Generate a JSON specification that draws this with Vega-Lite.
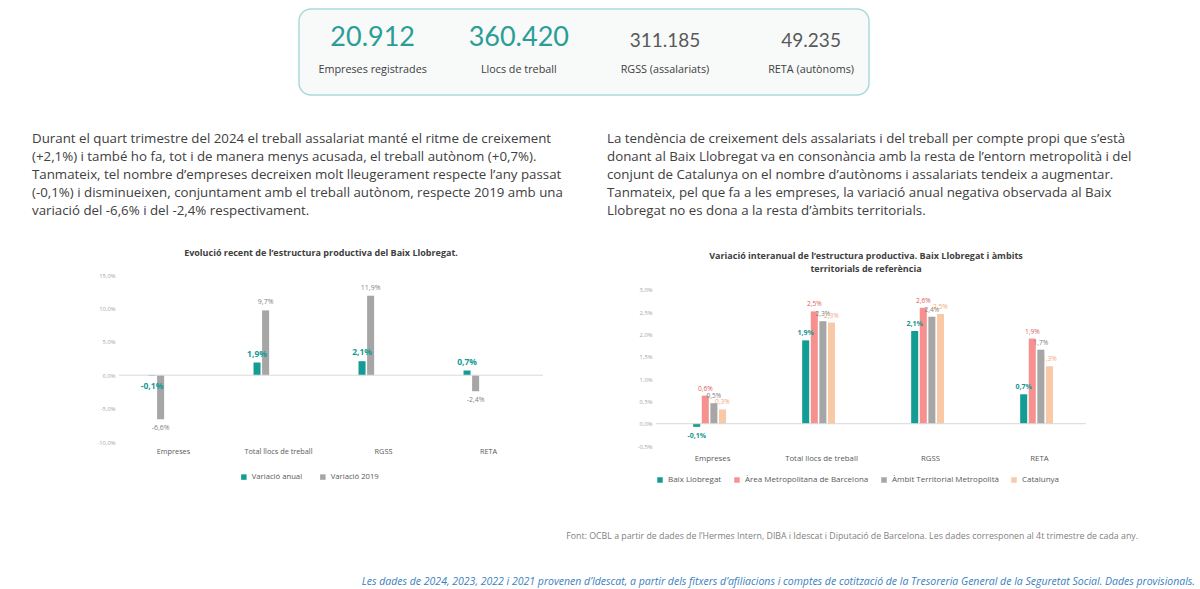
{
  "$schema": "https://vega.github.io/schema/vega-lite/v6.json",
  "background": "white",
  "padding": {"top": 8, "left": 0, "right": 0, "bottom": 0},
  "spacing": 0,
  "config": {
    "font": "Open Sans",
    "view": {"stroke": null},
    "concat": {"spacing": 0},
    "axis": {"labelOverlap": false},
    "locale": {"number": {"decimal": ",", "thousands": ".", "grouping": [3], "currency": ["", " €"], "minus": "-"}}
  },
  "vconcat": [
    {
      "spacing": 0,
      "hconcat": [
        {"width": 298, "height": 86, "data": {"values": [{}]}, "mark": {"type": "text", "text": ""}},
        {
          "width": 570, "height": 86,
          "view": {"stroke": "#a9dad6", "strokeWidth": 1.5, "cornerRadius": 12, "fill": "#f8f9f9"},
          "data": {"values": [
            {"indicador": "Empreses registrades", "valor": 20912, "tipus": "principal"},
            {"indicador": "Llocs de treball", "valor": 360420, "tipus": "principal"},
            {"indicador": "RGSS (assalariats)", "valor": 311185, "tipus": "secundari"},
            {"indicador": "RETA (autònoms)", "valor": 49235, "tipus": "secundari"}
          ]},
          "encoding": {"x": {"field": "indicador", "type": "nominal", "sort": null, "axis": null, "scale": {"type": "point", "padding": 0.45, "align": 0.56}}},
          "layer": [
            {"transform": [{"filter": "datum.tipus === 'principal'"}], "mark": {"type": "text", "font": "Lato", "fontSize": 27, "dy": -14, "color": "#2a9d97"}, "encoding": {"text": {"field": "valor", "type": "quantitative", "format": ",d"}}},
            {"transform": [{"filter": "datum.tipus === 'secundari'"}], "mark": {"type": "text", "font": "Lato", "fontSize": 19, "dy": -11, "color": "#595959"}, "encoding": {"text": {"field": "valor", "type": "quantitative", "format": ",d"}}},
            {"mark": {"type": "text", "fontSize": 10.8, "dy": 18, "color": "#404040"}, "encoding": {"text": {"field": "indicador", "type": "nominal"}}}
          ]
        }
      ]
    },
    {
      "spacing": 0,
      "hconcat": [
        {"width": 32, "height": 153, "data": {"values": [{}]}, "mark": {"type": "text", "text": ""}},
        {
          "width": 575, "height": 153,
          "data": {"values": [{"paragraf": "Durant el quart trimestre del 2024 el treball assalariat manté el ritme de creixement\n(+2,1%) i també ho fa, tot i de manera menys acusada, el treball autònom (+0,7%).\nTanmateix, tel nombre d’empreses decreixen molt lleugerament respecte l’any passat\n(-0,1%) i disminueixen, conjuntament amb el treball autònom,  respecte 2019 amb una\nvariació del -6,6% i del -2,4% respectivament."}]},
          "mark": {"type": "text", "align": "left", "baseline": "top", "x": 0, "y": 36, "fontSize": 13.3, "lineHeight": 18, "lineBreak": "\n", "color": "#404040"},
          "encoding": {"text": {"field": "paragraf", "type": "nominal"}}
        },
        {
          "width": 580, "height": 153,
          "data": {"values": [{"paragraf": "La tendència de creixement dels assalariats i del treball per compte propi que s’està\ndonant al Baix Llobregat va en consonància amb la resta de l’entorn metropolità i del\nconjunt de Catalunya on el nombre d’autònoms i assalariats tendeix a augmentar.\nTanmateix, pel que fa a les empreses, la variació anual negativa observada al Baix\nLlobregat no es dona a la resta d’àmbits territorials."}]},
          "mark": {"type": "text", "align": "left", "baseline": "top", "x": 0, "y": 36, "fontSize": 13.3, "lineHeight": 18, "lineBreak": "\n", "color": "#404040"},
          "encoding": {"text": {"field": "paragraf", "type": "nominal"}}
        }
      ]
    },
    {
      "spacing": 0,
      "resolve": {"scale": {"color": "independent"}, "legend": {"color": "independent"}},
      "hconcat": [
        {"width": 90, "height": 167, "data": {"values": [{}]}, "mark": {"type": "text", "text": ""}},
        {
          "width": 424, "height": 167,
          "title": {"text": "Evolució recent de l’estructura productiva del Baix Llobregat.", "fontSize": 9, "fontWeight": "bold", "color": "#404040", "anchor": "middle", "dx": -10, "offset": 14},
          "data": {"values": [
            {"categoria": "Empreses", "variacio": "Variació anual", "valor": -0.001},
            {"categoria": "Empreses", "variacio": "Variació 2019", "valor": -0.066},
            {"categoria": "Total llocs de treball", "variacio": "Variació anual", "valor": 0.019},
            {"categoria": "Total llocs de treball", "variacio": "Variació 2019", "valor": 0.097},
            {"categoria": "RGSS", "variacio": "Variació anual", "valor": 0.021},
            {"categoria": "RGSS", "variacio": "Variació 2019", "valor": 0.119},
            {"categoria": "RETA", "variacio": "Variació anual", "valor": 0.007},
            {"categoria": "RETA", "variacio": "Variació 2019", "valor": -0.024}
          ]},
          "layer": [
            {
              "mark": {"type": "bar"},
              "encoding": {
                "x": {"field": "categoria", "type": "nominal", "sort": null, "title": null, "scale": {"paddingInner": 0.524, "paddingOuter": 0.281},
                      "axis": {"domain": false, "ticks": false, "labelAngle": 0, "labelFontSize": 7.3, "labelColor": "#595959", "labelPadding": 5}},
                "xOffset": {"field": "variacio", "type": "nominal", "sort": null, "scale": {"paddingInner": 0.18}},
                "y": {"field": "valor", "type": "quantitative", "title": null, "scale": {"domain": [-0.1, 0.15], "nice": false, "zero": false},
                      "axis": {"values": [-0.1, -0.05, 0, 0.05, 0.1, 0.15], "tickCount": 20, "format": ".1%", "domain": false, "ticks": false, "grid": false, "labelOverlap": false, "labelFontSize": 5.8, "labelColor": "#a6a6a6", "labelPadding": 4, "minExtent": 29, "maxExtent": 29}},
                "color": {"field": "variacio", "type": "nominal", "sort": null, "scale": {"domain": ["Variació anual", "Variació 2019"], "range": ["#139c94", "#a6a6a6"]},
                          "legend": {"orient": "none", "legendX": 121, "legendY": 198, "direction": "horizontal", "title": null, "symbolType": "square", "symbolSize": 30, "labelFontSize": 7.7, "labelColor": "#595959", "columnPadding": 16}}
              }
            },
            {
              "data": {"values": [{}]},
              "mark": {"type": "rule", "color": "#d9d9d9", "strokeWidth": 1},
              "encoding": {"y": {"datum": 0, "type": "quantitative", "axis": {"values": [-0.1, -0.05, 0, 0.05, 0.1, 0.15], "tickCount": 20, "format": ".1%", "domain": false, "ticks": false, "grid": false, "labelOverlap": false}}}
            },
            {
              "transform": [{"filter": "datum.variacio === 'Variació anual'"}],
              "mark": {"type": "text", "fontSize": 8.5, "fontWeight": "bold", "color": "#139c94", "dy": {"expr": "datum.valor < 0 ? 10 : -9"}},
              "encoding": {
                "x": {"field": "categoria", "type": "nominal", "sort": null},
                "xOffset": {"field": "variacio", "type": "nominal", "sort": null},
                "y": {"field": "valor", "type": "quantitative"},
                "text": {"field": "valor", "type": "quantitative", "format": ".1%"}
              }
            },
            {
              "transform": [{"filter": "datum.variacio === 'Variació 2019'"}],
              "mark": {"type": "text", "fontSize": 7, "color": "#7f7f7f", "dy": {"expr": "datum.valor < 0 ? 9 : -8"}},
              "encoding": {
                "x": {"field": "categoria", "type": "nominal", "sort": null},
                "xOffset": {"field": "variacio", "type": "nominal", "sort": null},
                "y": {"field": "valor", "type": "quantitative"},
                "text": {"field": "valor", "type": "quantitative", "format": ".1%"}
              }
            }
          ]
        },
        {
          "width": 430, "height": 171,
          "title": {"text": ["Variació interanual de l’estructura productiva. Baix Llobregat i àmbits", "territorials de referència"], "fontSize": 9, "lineHeight": 13, "fontWeight": "bold", "color": "#404040", "anchor": "middle", "dx": -5, "offset": 1},
          "data": {"values": [
            {"categoria": "Empreses", "ambit": "Baix Llobregat", "valor": -0.0007},
            {"categoria": "Empreses", "ambit": "Àrea Metropolitana de Barcelona", "valor": 0.0063},
            {"categoria": "Empreses", "ambit": "Àmbit Territorial Metropolità", "valor": 0.0046},
            {"categoria": "Empreses", "ambit": "Catalunya", "valor": 0.0032},
            {"categoria": "Total llocs de treball", "ambit": "Baix Llobregat", "valor": 0.0187},
            {"categoria": "Total llocs de treball", "ambit": "Àrea Metropolitana de Barcelona", "valor": 0.0252},
            {"categoria": "Total llocs de treball", "ambit": "Àmbit Territorial Metropolità", "valor": 0.023},
            {"categoria": "Total llocs de treball", "ambit": "Catalunya", "valor": 0.0227},
            {"categoria": "RGSS", "ambit": "Baix Llobregat", "valor": 0.0208},
            {"categoria": "RGSS", "ambit": "Àrea Metropolitana de Barcelona", "valor": 0.026},
            {"categoria": "RGSS", "ambit": "Àmbit Territorial Metropolità", "valor": 0.024},
            {"categoria": "RGSS", "ambit": "Catalunya", "valor": 0.0246},
            {"categoria": "RETA", "ambit": "Baix Llobregat", "valor": 0.0066},
            {"categoria": "RETA", "ambit": "Àrea Metropolitana de Barcelona", "valor": 0.0191},
            {"categoria": "RETA", "ambit": "Àmbit Territorial Metropolità", "valor": 0.0166},
            {"categoria": "RETA", "ambit": "Catalunya", "valor": 0.0129}
          ]},
          "resolve": {"scale": {"color": "independent"}},
          "layer": [
            {
              "mark": {"type": "bar"},
              "encoding": {
                "x": {"field": "categoria", "type": "nominal", "sort": null, "title": null, "scale": {"paddingInner": 0.33, "paddingOuter": 0.1376, "align": 0.667},
                      "axis": {"domain": false, "ticks": false, "labelAngle": 0, "labelFontSize": 7.8, "labelColor": "#595959", "labelPadding": 8}},
                "xOffset": {"field": "ambit", "type": "nominal", "sort": null, "scale": {"paddingInner": 0.08}},
                "y": {"field": "valor", "type": "quantitative", "title": null, "scale": {"domain": [-0.005, 0.03336], "nice": false, "zero": false},
                      "axis": {"values": [-0.005, 0, 0.005, 0.01, 0.015, 0.02, 0.025, 0.03], "tickCount": 20, "format": ".1%", "domain": false, "ticks": false, "grid": false, "labelOverlap": false, "labelFontSize": 5.8, "labelColor": "#a6a6a6", "labelPadding": 4, "minExtent": 112, "maxExtent": 112}},
                "color": {"field": "ambit", "type": "nominal", "sort": null, "scale": {"domain": ["Baix Llobregat", "Àrea Metropolitana de Barcelona", "Àmbit Territorial Metropolità", "Catalunya"], "range": ["#139c94", "#f79190", "#a6a6a6", "#f8c9a4"]},
                          "legend": {"orient": "none", "legendX": 0, "legendY": 201, "direction": "horizontal", "title": null, "symbolType": "square", "symbolSize": 30, "labelFontSize": 8, "labelColor": "#595959", "columnPadding": 11}}
              }
            },
            {
              "data": {"values": [{}]},
              "mark": {"type": "rule", "color": "#d9d9d9", "strokeWidth": 1},
              "encoding": {"y": {"datum": 0, "type": "quantitative", "axis": {"values": [-0.005, 0, 0.005, 0.01, 0.015, 0.02, 0.025, 0.03], "tickCount": 20, "format": ".1%", "domain": false, "ticks": false, "grid": false, "labelOverlap": false}}}
            },
            {
              "transform": [{"filter": "datum.ambit === 'Baix Llobregat'"}],
              "mark": {"type": "text", "fontSize": 7, "fontWeight": "bold", "color": "#13968e", "dy": {"expr": "datum.valor < 0 ? 9 : -7"}},
              "encoding": {
                "x": {"field": "categoria", "type": "nominal", "sort": null},
                "xOffset": {"field": "ambit", "type": "nominal", "sort": null},
                "y": {"field": "valor", "type": "quantitative"},
                "text": {"field": "valor", "type": "quantitative", "format": ".1%"}
              }
            },
            {
              "transform": [{"filter": "datum.ambit !== 'Baix Llobregat'"}],
              "mark": {"type": "text", "fontSize": 6.6, "dy": -7},
              "encoding": {
                "x": {"field": "categoria", "type": "nominal", "sort": null},
                "xOffset": {"field": "ambit", "type": "nominal", "sort": null},
                "y": {"field": "valor", "type": "quantitative"},
                "text": {"field": "valor", "type": "quantitative", "format": ".1%"},
                "color": {"field": "ambit", "type": "nominal", "sort": null, "legend": null, "scale": {"domain": ["Àrea Metropolitana de Barcelona", "Àmbit Territorial Metropolità", "Catalunya"], "range": ["#e05c5c", "#7f7f7f", "#f0aa78"]}}
              }
            }
          ]
        }
      ]
    },
    {
      "width": 1138, "height": 70,
      "data": {"values": [{"font": "Font: OCBL a partir de dades de l’Hermes Intern, DIBA i Idescat i Diputació de Barcelona. Les dades corresponen al 4t trimestre de cada any."}]},
      "mark": {"type": "text", "align": "right", "baseline": "middle", "x": "width", "y": 52, "fontSize": 8.8, "color": "#7f7f7f"},
      "encoding": {"text": {"field": "font", "type": "nominal"}}
    },
    {
      "width": 1195, "height": 36,
      "data": {"values": [{"nota": "Les dades de 2024, 2023, 2022 i 2021 provenen d’Idescat, a partir dels fitxers d’afiliacions i comptes de cotització de la Tresoreria General de la Seguretat Social. Dades provisionals."}]},
      "mark": {"type": "text", "align": "right", "baseline": "middle", "x": "width", "y": 28, "fontSize": 10.5, "fontStyle": "italic", "color": "#3a7fc0"},
      "encoding": {"text": {"field": "nota", "type": "nominal"}}
    }
  ]
}
